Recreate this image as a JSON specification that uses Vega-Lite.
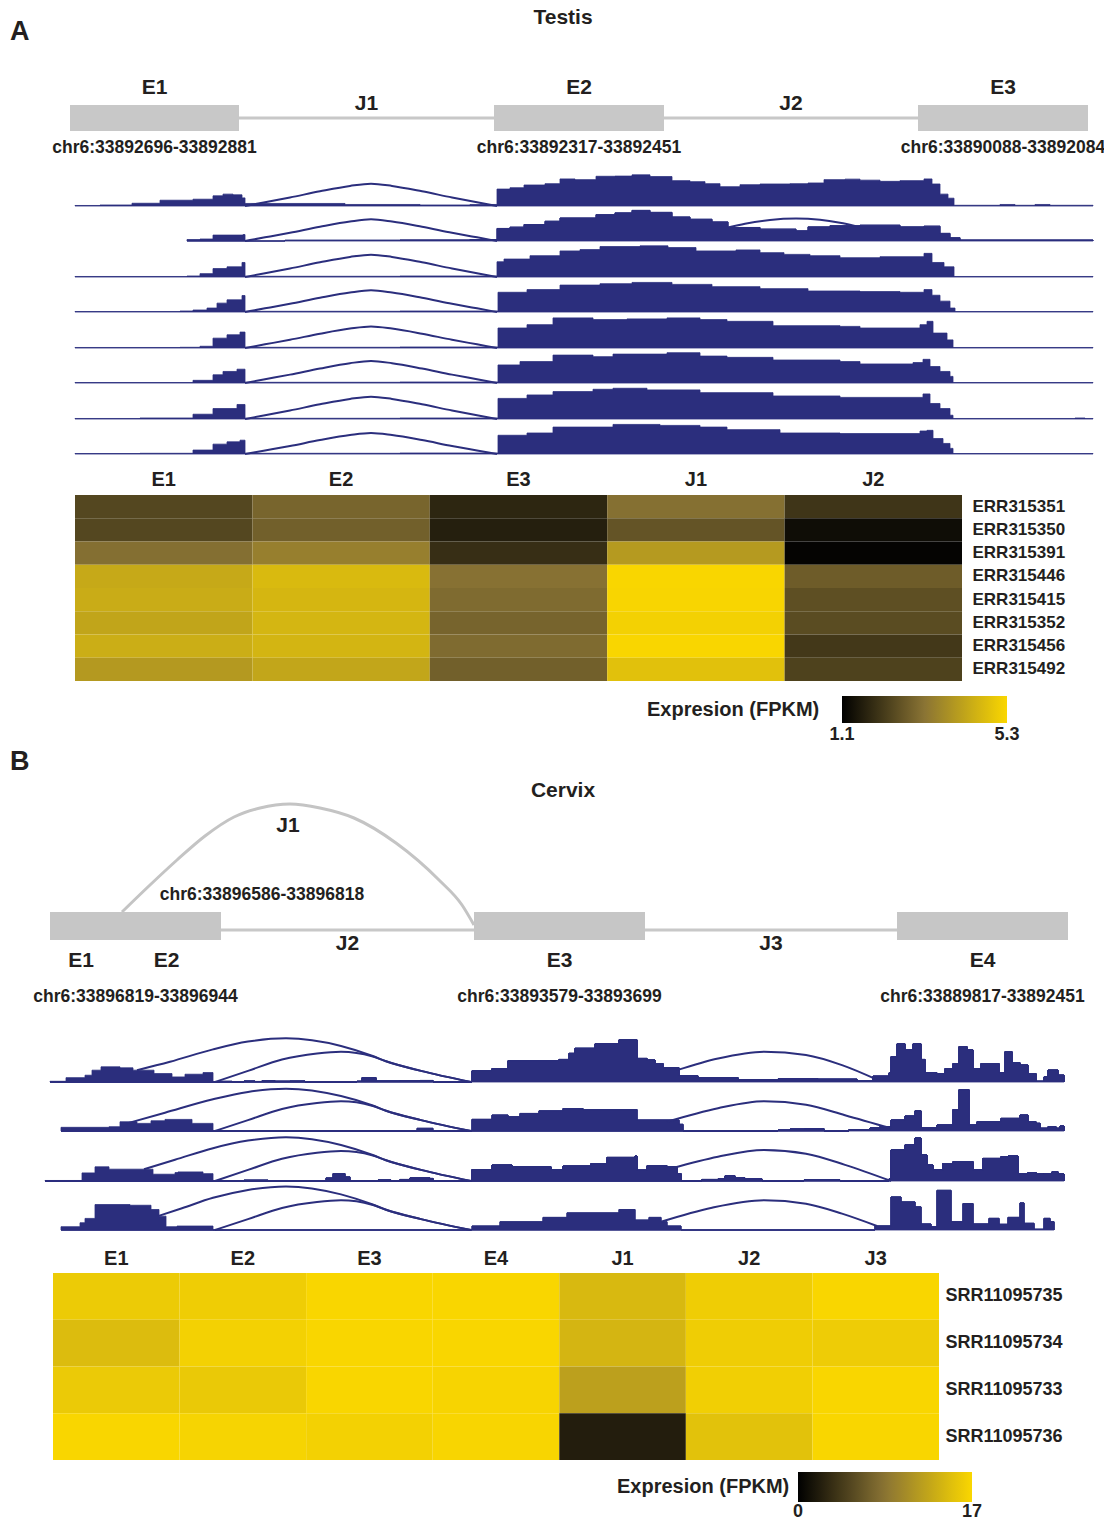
{
"$schema": "https://vega.github.io/schema/vega-lite/v6.json",
"padding": 0,
"autosize": {"type": "pad"},
"background": "white",
"bounds": "flush",
"spacing": 0,
"config": {"view": {"stroke": null}, "axis": {"labelFont": "Liberation Sans", "labelFontWeight": "bold", "labelColor": "#231f20"}},
"resolve": {"scale": {"color": "independent"}},
"datasets": {
"panels": [{"panel": "A", "tissue": "Testis"}, {"panel": "B", "tissue": "Cervix"}],
"featA": [
{"id": "E1", "type": "exon", "start": 70, "end": 239, "coord": "chr6:33892696-33892881"},
{"id": "J1", "type": "intron", "start": 239, "end": 494},
{"id": "E2", "type": "exon", "start": 494, "end": 664, "coord": "chr6:33892317-33892451"},
{"id": "J2", "type": "intron", "start": 664, "end": 918},
{"id": "E3", "type": "exon", "start": 918, "end": 1088, "coord": "chr6:33890088-33892084"}
],
"featB": [
{"id": "E1", "type": "exon", "start": 50, "end": 112},
{"id": "E2", "type": "exon", "start": 112, "end": 221},
{"id": "J2", "type": "intron", "start": 221, "end": 474},
{"id": "E3", "type": "exon", "start": 474, "end": 645, "coord": "chr6:33893579-33893699"},
{"id": "J3", "type": "intron", "start": 645, "end": 897},
{"id": "E4", "type": "exon", "start": 897, "end": 1068, "coord": "chr6:33889817-33892451"},
{"id": "E1-E2", "type": "span", "start": 50, "end": 221, "coord": "chr6:33896819-33896944"},
{"id": "J1", "type": "junction", "start": 122, "end": 474, "coord": "chr6:33896586-33896818"}
],
"arcB": [
{"pos": 122, "level": 231}, {"pos": 150, "level": 204}, {"pos": 177, "level": 179}, {"pos": 205, "level": 155}, {"pos": 234, "level": 136}, {"pos": 260, "level": 127}, {"pos": 290, "level": 123}, {"pos": 320, "level": 127}, {"pos": 354, "level": 137}, {"pos": 396, "level": 162}, {"pos": 439, "level": 199}, {"pos": 462, "level": 224}, {"pos": 474, "level": 244}
],
"tracksA": [
{"track":1,"kind":"cov","seg":"c1","pos":75,"cov":0.5},{"track":1,"kind":"cov","seg":"c1","pos":100,"cov":1},{"track":1,"kind":"cov","seg":"c1","pos":132,"cov":2.7},{"track":1,"kind":"cov","seg":"c1","pos":160,"cov":5.7},{"track":1,"kind":"cov","seg":"c1","pos":193,"cov":6.7},{"track":1,"kind":"cov","seg":"c1","pos":213,"cov":10},{"track":1,"kind":"cov","seg":"c1","pos":223,"cov":11.7},{"track":1,"kind":"cov","seg":"c1","pos":233,"cov":11},{"track":1,"kind":"cov","seg":"c1","pos":242,"cov":8},{"track":1,"kind":"cov","seg":"c1","pos":245,"cov":2.5},{"track":1,"kind":"cov","seg":"c1","pos":345,"cov":1.5},{"track":1,"kind":"cov","seg":"c1","pos":420,"cov":1},{"track":1,"kind":"cov","seg":"c1","pos":470,"cov":1.5},{"track":1,"kind":"cov","seg":"c1","pos":497,"cov":16.7},{"track":1,"kind":"cov","seg":"c1","pos":510,"cov":18},{"track":1,"kind":"cov","seg":"c1","pos":524,"cov":20.7},{"track":1,"kind":"cov","seg":"c1","pos":545,"cov":22},{"track":1,"kind":"cov","seg":"c1","pos":560,"cov":26.7},{"track":1,"kind":"cov","seg":"c1","pos":575,"cov":26},{"track":1,"kind":"cov","seg":"c1","pos":596,"cov":29.3},{"track":1,"kind":"cov","seg":"c1","pos":615,"cov":29.5},{"track":1,"kind":"cov","seg":"c1","pos":632,"cov":30.7},{"track":1,"kind":"cov","seg":"c1","pos":650,"cov":29},{"track":1,"kind":"cov","seg":"c1","pos":672,"cov":25},{"track":1,"kind":"cov","seg":"c1","pos":690,"cov":24},{"track":1,"kind":"cov","seg":"c1","pos":705,"cov":22},{"track":1,"kind":"cov","seg":"c1","pos":720,"cov":19},{"track":1,"kind":"cov","seg":"c1","pos":740,"cov":21},{"track":1,"kind":"cov","seg":"c1","pos":760,"cov":21.7},{"track":1,"kind":"cov","seg":"c1","pos":790,"cov":22},{"track":1,"kind":"cov","seg":"c1","pos":808,"cov":22.7},{"track":1,"kind":"cov","seg":"c1","pos":824,"cov":26},{"track":1,"kind":"cov","seg":"c1","pos":845,"cov":26.5},{"track":1,"kind":"cov","seg":"c1","pos":860,"cov":25.5},{"track":1,"kind":"cov","seg":"c1","pos":880,"cov":24.3},{"track":1,"kind":"cov","seg":"c1","pos":900,"cov":25},{"track":1,"kind":"cov","seg":"c1","pos":924,"cov":26.7},{"track":1,"kind":"cov","seg":"c1","pos":932,"cov":21.7},{"track":1,"kind":"cov","seg":"c1","pos":940,"cov":11.7},{"track":1,"kind":"cov","seg":"c1","pos":948,"cov":7.7},{"track":1,"kind":"cov","seg":"c1","pos":954,"cov":0.7},{"track":1,"kind":"cov","seg":"c1","pos":1000,"cov":1.5},{"track":1,"kind":"cov","seg":"c1","pos":1015,"cov":0.7},{"track":1,"kind":"cov","seg":"c1","pos":1035,"cov":1.5},{"track":1,"kind":"cov","seg":"c1","pos":1050,"cov":0.7},{"track":1,"kind":"cov","seg":"c1","pos":1093,"cov":0},
{"track":2,"kind":"cov","seg":"c1","pos":187,"cov":1.5},{"track":2,"kind":"cov","seg":"c1","pos":200,"cov":2},{"track":2,"kind":"cov","seg":"c1","pos":213,"cov":6},{"track":2,"kind":"cov","seg":"c1","pos":243,"cov":6.5},{"track":2,"kind":"cov","seg":"c1","pos":245,"cov":0},
{"track":2,"kind":"cov","seg":"c2","pos":285,"cov":0.7},{"track":2,"kind":"cov","seg":"c2","pos":400,"cov":1},{"track":2,"kind":"cov","seg":"c2","pos":470,"cov":1.5},{"track":2,"kind":"cov","seg":"c2","pos":497,"cov":12.7},{"track":2,"kind":"cov","seg":"c2","pos":510,"cov":14},{"track":2,"kind":"cov","seg":"c2","pos":524,"cov":16.7},{"track":2,"kind":"cov","seg":"c2","pos":545,"cov":20},{"track":2,"kind":"cov","seg":"c2","pos":560,"cov":23.3},{"track":2,"kind":"cov","seg":"c2","pos":596,"cov":26.7},{"track":2,"kind":"cov","seg":"c2","pos":615,"cov":28.5},{"track":2,"kind":"cov","seg":"c2","pos":632,"cov":31},{"track":2,"kind":"cov","seg":"c2","pos":650,"cov":29},{"track":2,"kind":"cov","seg":"c2","pos":672,"cov":24.3},{"track":2,"kind":"cov","seg":"c2","pos":690,"cov":22},{"track":2,"kind":"cov","seg":"c2","pos":712,"cov":19.3},{"track":2,"kind":"cov","seg":"c2","pos":728,"cov":13.7},{"track":2,"kind":"cov","seg":"c2","pos":760,"cov":12},{"track":2,"kind":"cov","seg":"c2","pos":796,"cov":10.3},{"track":2,"kind":"cov","seg":"c2","pos":808,"cov":14.3},{"track":2,"kind":"cov","seg":"c2","pos":830,"cov":15.5},{"track":2,"kind":"cov","seg":"c2","pos":860,"cov":16},{"track":2,"kind":"cov","seg":"c2","pos":900,"cov":14.3},{"track":2,"kind":"cov","seg":"c2","pos":924,"cov":15},{"track":2,"kind":"cov","seg":"c2","pos":940,"cov":7.7},{"track":2,"kind":"cov","seg":"c2","pos":950,"cov":3.3},{"track":2,"kind":"cov","seg":"c2","pos":960,"cov":1},{"track":2,"kind":"cov","seg":"c2","pos":1093,"cov":0},
{"track":3,"kind":"cov","seg":"c1","pos":75,"cov":0.5},{"track":3,"kind":"cov","seg":"c1","pos":187,"cov":1},{"track":3,"kind":"cov","seg":"c1","pos":200,"cov":3.3},{"track":3,"kind":"cov","seg":"c1","pos":213,"cov":8.3},{"track":3,"kind":"cov","seg":"c1","pos":227,"cov":10},{"track":3,"kind":"cov","seg":"c1","pos":242,"cov":14.3},{"track":3,"kind":"cov","seg":"c1","pos":245,"cov":0.7},{"track":3,"kind":"cov","seg":"c1","pos":400,"cov":1},{"track":3,"kind":"cov","seg":"c1","pos":497,"cov":15},{"track":3,"kind":"cov","seg":"c1","pos":504,"cov":17.7},{"track":3,"kind":"cov","seg":"c1","pos":530,"cov":21},{"track":3,"kind":"cov","seg":"c1","pos":560,"cov":25.7},{"track":3,"kind":"cov","seg":"c1","pos":580,"cov":27},{"track":3,"kind":"cov","seg":"c1","pos":600,"cov":30},{"track":3,"kind":"cov","seg":"c1","pos":640,"cov":30.7},{"track":3,"kind":"cov","seg":"c1","pos":668,"cov":29},{"track":3,"kind":"cov","seg":"c1","pos":696,"cov":25.7},{"track":3,"kind":"cov","seg":"c1","pos":736,"cov":26.7},{"track":3,"kind":"cov","seg":"c1","pos":760,"cov":24},{"track":3,"kind":"cov","seg":"c1","pos":784,"cov":22.3},{"track":3,"kind":"cov","seg":"c1","pos":810,"cov":21},{"track":3,"kind":"cov","seg":"c1","pos":840,"cov":19},{"track":3,"kind":"cov","seg":"c1","pos":880,"cov":20},{"track":3,"kind":"cov","seg":"c1","pos":924,"cov":23.3},{"track":3,"kind":"cov","seg":"c1","pos":932,"cov":14.3},{"track":3,"kind":"cov","seg":"c1","pos":944,"cov":10},{"track":3,"kind":"cov","seg":"c1","pos":954,"cov":0.5},{"track":3,"kind":"cov","seg":"c1","pos":1093,"cov":0},
{"track":4,"kind":"cov","seg":"c1","pos":75,"cov":0.5},{"track":4,"kind":"cov","seg":"c1","pos":180,"cov":1},{"track":4,"kind":"cov","seg":"c1","pos":193,"cov":2},{"track":4,"kind":"cov","seg":"c1","pos":207,"cov":4},{"track":4,"kind":"cov","seg":"c1","pos":217,"cov":9},{"track":4,"kind":"cov","seg":"c1","pos":227,"cov":12.3},{"track":4,"kind":"cov","seg":"c1","pos":242,"cov":16.7},{"track":4,"kind":"cov","seg":"c1","pos":245,"cov":0.7},{"track":4,"kind":"cov","seg":"c1","pos":400,"cov":1},{"track":4,"kind":"cov","seg":"c1","pos":498,"cov":20},{"track":4,"kind":"cov","seg":"c1","pos":527,"cov":22.7},{"track":4,"kind":"cov","seg":"c1","pos":560,"cov":27.3},{"track":4,"kind":"cov","seg":"c1","pos":600,"cov":28.7},{"track":4,"kind":"cov","seg":"c1","pos":632,"cov":30},{"track":4,"kind":"cov","seg":"c1","pos":672,"cov":28},{"track":4,"kind":"cov","seg":"c1","pos":712,"cov":25.7},{"track":4,"kind":"cov","seg":"c1","pos":760,"cov":23.7},{"track":4,"kind":"cov","seg":"c1","pos":808,"cov":21.3},{"track":4,"kind":"cov","seg":"c1","pos":860,"cov":20.7},{"track":4,"kind":"cov","seg":"c1","pos":900,"cov":20},{"track":4,"kind":"cov","seg":"c1","pos":924,"cov":22.7},{"track":4,"kind":"cov","seg":"c1","pos":932,"cov":17},{"track":4,"kind":"cov","seg":"c1","pos":940,"cov":11},{"track":4,"kind":"cov","seg":"c1","pos":950,"cov":4},{"track":4,"kind":"cov","seg":"c1","pos":955,"cov":0.5},{"track":4,"kind":"cov","seg":"c1","pos":1093,"cov":0},
{"track":5,"kind":"cov","seg":"c1","pos":75,"cov":0.5},{"track":5,"kind":"cov","seg":"c1","pos":180,"cov":0.7},{"track":5,"kind":"cov","seg":"c1","pos":200,"cov":1.7},{"track":5,"kind":"cov","seg":"c1","pos":213,"cov":9.7},{"track":5,"kind":"cov","seg":"c1","pos":227,"cov":13},{"track":5,"kind":"cov","seg":"c1","pos":240,"cov":15.7},{"track":5,"kind":"cov","seg":"c1","pos":245,"cov":0.7},{"track":5,"kind":"cov","seg":"c1","pos":400,"cov":1},{"track":5,"kind":"cov","seg":"c1","pos":498,"cov":19.7},{"track":5,"kind":"cov","seg":"c1","pos":527,"cov":23},{"track":5,"kind":"cov","seg":"c1","pos":553,"cov":29.7},{"track":5,"kind":"cov","seg":"c1","pos":593,"cov":28},{"track":5,"kind":"cov","seg":"c1","pos":627,"cov":28.7},{"track":5,"kind":"cov","seg":"c1","pos":667,"cov":29.7},{"track":5,"kind":"cov","seg":"c1","pos":700,"cov":28},{"track":5,"kind":"cov","seg":"c1","pos":727,"cov":26.3},{"track":5,"kind":"cov","seg":"c1","pos":773,"cov":22},{"track":5,"kind":"cov","seg":"c1","pos":840,"cov":21.3},{"track":5,"kind":"cov","seg":"c1","pos":860,"cov":19.7},{"track":5,"kind":"cov","seg":"c1","pos":920,"cov":23},{"track":5,"kind":"cov","seg":"c1","pos":927,"cov":26.3},{"track":5,"kind":"cov","seg":"c1","pos":933,"cov":14.7},{"track":5,"kind":"cov","seg":"c1","pos":947,"cov":8},{"track":5,"kind":"cov","seg":"c1","pos":953,"cov":0.5},{"track":5,"kind":"cov","seg":"c1","pos":1093,"cov":0},
{"track":6,"kind":"cov","seg":"c1","pos":75,"cov":0.5},{"track":6,"kind":"cov","seg":"c1","pos":193,"cov":2.7},{"track":6,"kind":"cov","seg":"c1","pos":213,"cov":8.3},{"track":6,"kind":"cov","seg":"c1","pos":223,"cov":11.7},{"track":6,"kind":"cov","seg":"c1","pos":237,"cov":14},{"track":6,"kind":"cov","seg":"c1","pos":245,"cov":0.7},{"track":6,"kind":"cov","seg":"c1","pos":400,"cov":1},{"track":6,"kind":"cov","seg":"c1","pos":498,"cov":18.3},{"track":6,"kind":"cov","seg":"c1","pos":520,"cov":21.7},{"track":6,"kind":"cov","seg":"c1","pos":553,"cov":28.3},{"track":6,"kind":"cov","seg":"c1","pos":593,"cov":26.7},{"track":6,"kind":"cov","seg":"c1","pos":613,"cov":29.3},{"track":6,"kind":"cov","seg":"c1","pos":667,"cov":30.7},{"track":6,"kind":"cov","seg":"c1","pos":700,"cov":27.3},{"track":6,"kind":"cov","seg":"c1","pos":727,"cov":26},{"track":6,"kind":"cov","seg":"c1","pos":773,"cov":23.3},{"track":6,"kind":"cov","seg":"c1","pos":840,"cov":21.7},{"track":6,"kind":"cov","seg":"c1","pos":860,"cov":19.3},{"track":6,"kind":"cov","seg":"c1","pos":913,"cov":20.7},{"track":6,"kind":"cov","seg":"c1","pos":923,"cov":24},{"track":6,"kind":"cov","seg":"c1","pos":930,"cov":16.7},{"track":6,"kind":"cov","seg":"c1","pos":940,"cov":11.7},{"track":6,"kind":"cov","seg":"c1","pos":950,"cov":6.7},{"track":6,"kind":"cov","seg":"c1","pos":953,"cov":0.5},{"track":6,"kind":"cov","seg":"c1","pos":1093,"cov":0},
{"track":7,"kind":"cov","seg":"c1","pos":75,"cov":0.5},{"track":7,"kind":"cov","seg":"c1","pos":140,"cov":1},{"track":7,"kind":"cov","seg":"c1","pos":193,"cov":4.7},{"track":7,"kind":"cov","seg":"c1","pos":213,"cov":10.3},{"track":7,"kind":"cov","seg":"c1","pos":237,"cov":14.3},{"track":7,"kind":"cov","seg":"c1","pos":245,"cov":0.7},{"track":7,"kind":"cov","seg":"c1","pos":400,"cov":1},{"track":7,"kind":"cov","seg":"c1","pos":498,"cov":20.3},{"track":7,"kind":"cov","seg":"c1","pos":527,"cov":23.7},{"track":7,"kind":"cov","seg":"c1","pos":553,"cov":27},{"track":7,"kind":"cov","seg":"c1","pos":593,"cov":29.3},{"track":7,"kind":"cov","seg":"c1","pos":613,"cov":30.3},{"track":7,"kind":"cov","seg":"c1","pos":647,"cov":28.7},{"track":7,"kind":"cov","seg":"c1","pos":700,"cov":26},{"track":7,"kind":"cov","seg":"c1","pos":773,"cov":22.7},{"track":7,"kind":"cov","seg":"c1","pos":840,"cov":21.3},{"track":7,"kind":"cov","seg":"c1","pos":893,"cov":21.3},{"track":7,"kind":"cov","seg":"c1","pos":923,"cov":24.7},{"track":7,"kind":"cov","seg":"c1","pos":930,"cov":15.3},{"track":7,"kind":"cov","seg":"c1","pos":940,"cov":10.3},{"track":7,"kind":"cov","seg":"c1","pos":950,"cov":3.7},{"track":7,"kind":"cov","seg":"c1","pos":953,"cov":0.5},{"track":7,"kind":"cov","seg":"c1","pos":1075,"cov":1},{"track":7,"kind":"cov","seg":"c1","pos":1085,"cov":0.5},{"track":7,"kind":"cov","seg":"c1","pos":1093,"cov":0},
{"track":8,"kind":"cov","seg":"c1","pos":75,"cov":0.5},{"track":8,"kind":"cov","seg":"c1","pos":140,"cov":0.7},{"track":8,"kind":"cov","seg":"c1","pos":193,"cov":4},{"track":8,"kind":"cov","seg":"c1","pos":213,"cov":10},{"track":8,"kind":"cov","seg":"c1","pos":227,"cov":12.3},{"track":8,"kind":"cov","seg":"c1","pos":240,"cov":14},{"track":8,"kind":"cov","seg":"c1","pos":245,"cov":0.7},{"track":8,"kind":"cov","seg":"c1","pos":400,"cov":1},{"track":8,"kind":"cov","seg":"c1","pos":498,"cov":19},{"track":8,"kind":"cov","seg":"c1","pos":527,"cov":21.3},{"track":8,"kind":"cov","seg":"c1","pos":553,"cov":27.3},{"track":8,"kind":"cov","seg":"c1","pos":613,"cov":30},{"track":8,"kind":"cov","seg":"c1","pos":660,"cov":29},{"track":8,"kind":"cov","seg":"c1","pos":700,"cov":27.3},{"track":8,"kind":"cov","seg":"c1","pos":727,"cov":24.7},{"track":8,"kind":"cov","seg":"c1","pos":780,"cov":21.3},{"track":8,"kind":"cov","seg":"c1","pos":840,"cov":20.7},{"track":8,"kind":"cov","seg":"c1","pos":920,"cov":23.3},{"track":8,"kind":"cov","seg":"c1","pos":927,"cov":24},{"track":8,"kind":"cov","seg":"c1","pos":933,"cov":15.7},{"track":8,"kind":"cov","seg":"c1","pos":943,"cov":10.7},{"track":8,"kind":"cov","seg":"c1","pos":950,"cov":5.7},{"track":8,"kind":"cov","seg":"c1","pos":953,"cov":0.5},{"track":8,"kind":"cov","seg":"c1","pos":1093,"cov":0},
{"track":1,"kind":"arc","seg":"J1","pos":245,"cov":0},{"track":1,"kind":"arc","seg":"J1","pos":265,"cov":3.7},{"track":1,"kind":"arc","seg":"J1","pos":290,"cov":8.4},{"track":1,"kind":"arc","seg":"J1","pos":320,"cov":14.5},{"track":1,"kind":"arc","seg":"J1","pos":350,"cov":19.8},{"track":1,"kind":"arc","seg":"J1","pos":371,"cov":22},{"track":1,"kind":"arc","seg":"J1","pos":392,"cov":19.8},{"track":1,"kind":"arc","seg":"J1","pos":422,"cov":14.5},{"track":1,"kind":"arc","seg":"J1","pos":452,"cov":8.4},{"track":1,"kind":"arc","seg":"J1","pos":477,"cov":3.7},{"track":1,"kind":"arc","seg":"J1","pos":497,"cov":0},
{"track":2,"kind":"arc","seg":"J1","pos":245,"cov":0},{"track":2,"kind":"arc","seg":"J1","pos":265,"cov":3.7},{"track":2,"kind":"arc","seg":"J1","pos":290,"cov":8.4},{"track":2,"kind":"arc","seg":"J1","pos":320,"cov":14.5},{"track":2,"kind":"arc","seg":"J1","pos":350,"cov":19.8},{"track":2,"kind":"arc","seg":"J1","pos":371,"cov":22},{"track":2,"kind":"arc","seg":"J1","pos":392,"cov":19.8},{"track":2,"kind":"arc","seg":"J1","pos":422,"cov":14.5},{"track":2,"kind":"arc","seg":"J1","pos":452,"cov":8.4},{"track":2,"kind":"arc","seg":"J1","pos":477,"cov":3.7},{"track":2,"kind":"arc","seg":"J1","pos":497,"cov":0},
{"track":2,"kind":"arc","seg":"J2","pos":728,"cov":13.7},{"track":2,"kind":"arc","seg":"J2","pos":745,"cov":17.5},{"track":2,"kind":"arc","seg":"J2","pos":770,"cov":21.3},{"track":2,"kind":"arc","seg":"J2","pos":796,"cov":22.7},{"track":2,"kind":"arc","seg":"J2","pos":820,"cov":21.5},{"track":2,"kind":"arc","seg":"J2","pos":840,"cov":18.5},{"track":2,"kind":"arc","seg":"J2","pos":856,"cov":15},
{"track":3,"kind":"arc","seg":"J1","pos":245,"cov":0},{"track":3,"kind":"arc","seg":"J1","pos":265,"cov":3.7},{"track":3,"kind":"arc","seg":"J1","pos":290,"cov":8.4},{"track":3,"kind":"arc","seg":"J1","pos":320,"cov":14.5},{"track":3,"kind":"arc","seg":"J1","pos":350,"cov":19.8},{"track":3,"kind":"arc","seg":"J1","pos":371,"cov":22},{"track":3,"kind":"arc","seg":"J1","pos":392,"cov":19.8},{"track":3,"kind":"arc","seg":"J1","pos":422,"cov":14.5},{"track":3,"kind":"arc","seg":"J1","pos":452,"cov":8.4},{"track":3,"kind":"arc","seg":"J1","pos":477,"cov":3.7},{"track":3,"kind":"arc","seg":"J1","pos":497,"cov":0},
{"track":4,"kind":"arc","seg":"J1","pos":245,"cov":0},{"track":4,"kind":"arc","seg":"J1","pos":265,"cov":3.7},{"track":4,"kind":"arc","seg":"J1","pos":290,"cov":8.4},{"track":4,"kind":"arc","seg":"J1","pos":320,"cov":14.5},{"track":4,"kind":"arc","seg":"J1","pos":350,"cov":19.8},{"track":4,"kind":"arc","seg":"J1","pos":371,"cov":22},{"track":4,"kind":"arc","seg":"J1","pos":392,"cov":19.8},{"track":4,"kind":"arc","seg":"J1","pos":422,"cov":14.5},{"track":4,"kind":"arc","seg":"J1","pos":452,"cov":8.4},{"track":4,"kind":"arc","seg":"J1","pos":477,"cov":3.7},{"track":4,"kind":"arc","seg":"J1","pos":497,"cov":0},
{"track":5,"kind":"arc","seg":"J1","pos":245,"cov":0},{"track":5,"kind":"arc","seg":"J1","pos":265,"cov":3.6},{"track":5,"kind":"arc","seg":"J1","pos":290,"cov":8.1},{"track":5,"kind":"arc","seg":"J1","pos":320,"cov":14.1},{"track":5,"kind":"arc","seg":"J1","pos":350,"cov":19.2},{"track":5,"kind":"arc","seg":"J1","pos":371,"cov":21.3},{"track":5,"kind":"arc","seg":"J1","pos":392,"cov":19.2},{"track":5,"kind":"arc","seg":"J1","pos":422,"cov":14.1},{"track":5,"kind":"arc","seg":"J1","pos":452,"cov":8.1},{"track":5,"kind":"arc","seg":"J1","pos":477,"cov":3.6},{"track":5,"kind":"arc","seg":"J1","pos":497,"cov":0},
{"track":6,"kind":"arc","seg":"J1","pos":245,"cov":0},{"track":6,"kind":"arc","seg":"J1","pos":265,"cov":3.8},{"track":6,"kind":"arc","seg":"J1","pos":290,"cov":8.5},{"track":6,"kind":"arc","seg":"J1","pos":320,"cov":14.7},{"track":6,"kind":"arc","seg":"J1","pos":350,"cov":20.1},{"track":6,"kind":"arc","seg":"J1","pos":371,"cov":22.3},{"track":6,"kind":"arc","seg":"J1","pos":392,"cov":20.1},{"track":6,"kind":"arc","seg":"J1","pos":422,"cov":14.7},{"track":6,"kind":"arc","seg":"J1","pos":452,"cov":8.5},{"track":6,"kind":"arc","seg":"J1","pos":477,"cov":3.8},{"track":6,"kind":"arc","seg":"J1","pos":497,"cov":0},
{"track":7,"kind":"arc","seg":"J1","pos":245,"cov":0},{"track":7,"kind":"arc","seg":"J1","pos":265,"cov":3.7},{"track":7,"kind":"arc","seg":"J1","pos":290,"cov":8.4},{"track":7,"kind":"arc","seg":"J1","pos":320,"cov":14.5},{"track":7,"kind":"arc","seg":"J1","pos":350,"cov":19.8},{"track":7,"kind":"arc","seg":"J1","pos":371,"cov":22},{"track":7,"kind":"arc","seg":"J1","pos":392,"cov":19.8},{"track":7,"kind":"arc","seg":"J1","pos":422,"cov":14.5},{"track":7,"kind":"arc","seg":"J1","pos":452,"cov":8.4},{"track":7,"kind":"arc","seg":"J1","pos":477,"cov":3.7},{"track":7,"kind":"arc","seg":"J1","pos":497,"cov":0},
{"track":8,"kind":"arc","seg":"J1","pos":245,"cov":0},{"track":8,"kind":"arc","seg":"J1","pos":265,"cov":3.6},{"track":8,"kind":"arc","seg":"J1","pos":290,"cov":8.1},{"track":8,"kind":"arc","seg":"J1","pos":320,"cov":14.1},{"track":8,"kind":"arc","seg":"J1","pos":350,"cov":19.2},{"track":8,"kind":"arc","seg":"J1","pos":371,"cov":21.3},{"track":8,"kind":"arc","seg":"J1","pos":392,"cov":19.2},{"track":8,"kind":"arc","seg":"J1","pos":422,"cov":14.1},{"track":8,"kind":"arc","seg":"J1","pos":452,"cov":8.1},{"track":8,"kind":"arc","seg":"J1","pos":477,"cov":3.6},{"track":8,"kind":"arc","seg":"J1","pos":497,"cov":0}
],
"tracksB": [
{"track":1,"kind":"cov","seg":"c1","pos":50,"cov":0.7},{"track":1,"kind":"cov","seg":"c1","pos":66,"cov":4.3},{"track":1,"kind":"cov","seg":"c1","pos":85,"cov":6.7},{"track":1,"kind":"cov","seg":"c1","pos":92,"cov":11.7},{"track":1,"kind":"cov","seg":"c1","pos":101,"cov":15},{"track":1,"kind":"cov","seg":"c1","pos":120,"cov":14},{"track":1,"kind":"cov","seg":"c1","pos":133,"cov":11.7},{"track":1,"kind":"cov","seg":"c1","pos":154,"cov":8.3},{"track":1,"kind":"cov","seg":"c1","pos":172,"cov":5},{"track":1,"kind":"cov","seg":"c1","pos":185,"cov":7.7},{"track":1,"kind":"cov","seg":"c1","pos":203,"cov":9.3},{"track":1,"kind":"cov","seg":"c1","pos":213,"cov":0},
{"track":1,"kind":"cov","seg":"c2","pos":220,"cov":0.7},{"track":1,"kind":"cov","seg":"c2","pos":232,"cov":0},
{"track":1,"kind":"cov","seg":"c3","pos":244,"cov":1},{"track":1,"kind":"cov","seg":"c3","pos":255,"cov":0.5},{"track":1,"kind":"cov","seg":"c3","pos":262,"cov":1.2},{"track":1,"kind":"cov","seg":"c3","pos":275,"cov":0.8},{"track":1,"kind":"cov","seg":"c3","pos":290,"cov":1},{"track":1,"kind":"cov","seg":"c3","pos":305,"cov":0},
{"track":1,"kind":"cov","seg":"c4","pos":357,"cov":0.7},{"track":1,"kind":"cov","seg":"c4","pos":362,"cov":4.3},{"track":1,"kind":"cov","seg":"c4","pos":376,"cov":1},{"track":1,"kind":"cov","seg":"c4","pos":400,"cov":1.2},{"track":1,"kind":"cov","seg":"c4","pos":420,"cov":1.5},{"track":1,"kind":"cov","seg":"c4","pos":433,"cov":0},
{"track":1,"kind":"cov","seg":"c5","pos":472,"cov":11},{"track":1,"kind":"cov","seg":"c5","pos":492,"cov":13.3},{"track":1,"kind":"cov","seg":"c5","pos":508,"cov":21},{"track":1,"kind":"cov","seg":"c5","pos":559,"cov":22.3},{"track":1,"kind":"cov","seg":"c5","pos":569,"cov":28.3},{"track":1,"kind":"cov","seg":"c5","pos":575,"cov":33.3},{"track":1,"kind":"cov","seg":"c5","pos":595,"cov":37.7},{"track":1,"kind":"cov","seg":"c5","pos":619,"cov":41.7},{"track":1,"kind":"cov","seg":"c5","pos":637,"cov":23.3},{"track":1,"kind":"cov","seg":"c5","pos":647,"cov":21.7},{"track":1,"kind":"cov","seg":"c5","pos":655,"cov":18.3},{"track":1,"kind":"cov","seg":"c5","pos":663,"cov":14},{"track":1,"kind":"cov","seg":"c5","pos":679,"cov":6},{"track":1,"kind":"cov","seg":"c5","pos":698,"cov":4.3},{"track":1,"kind":"cov","seg":"c5","pos":738,"cov":2.3},{"track":1,"kind":"cov","seg":"c5","pos":778,"cov":3},{"track":1,"kind":"cov","seg":"c5","pos":818,"cov":2.7},{"track":1,"kind":"cov","seg":"c5","pos":857,"cov":1},{"track":1,"kind":"cov","seg":"c5","pos":873,"cov":5.7},{"track":1,"kind":"cov","seg":"c5","pos":889,"cov":9},{"track":1,"kind":"cov","seg":"c5","pos":891,"cov":25},{"track":1,"kind":"cov","seg":"c5","pos":897,"cov":37.7},{"track":1,"kind":"cov","seg":"c5","pos":905,"cov":31.7},{"track":1,"kind":"cov","seg":"c5","pos":913,"cov":37.7},{"track":1,"kind":"cov","seg":"c5","pos":921,"cov":22.3},{"track":1,"kind":"cov","seg":"c5","pos":925,"cov":9},{"track":1,"kind":"cov","seg":"c5","pos":937,"cov":8.3},{"track":1,"kind":"cov","seg":"c5","pos":945,"cov":13.3},{"track":1,"kind":"cov","seg":"c5","pos":953,"cov":18.3},{"track":1,"kind":"cov","seg":"c5","pos":959,"cov":35},{"track":1,"kind":"cov","seg":"c5","pos":967,"cov":31.7},{"track":1,"kind":"cov","seg":"c5","pos":973,"cov":13.3},{"track":1,"kind":"cov","seg":"c5","pos":981,"cov":18.3},{"track":1,"kind":"cov","seg":"c5","pos":999,"cov":9},{"track":1,"kind":"cov","seg":"c5","pos":1005,"cov":30},{"track":1,"kind":"cov","seg":"c5","pos":1012,"cov":19},{"track":1,"kind":"cov","seg":"c5","pos":1020,"cov":16.7},{"track":1,"kind":"cov","seg":"c5","pos":1028,"cov":8.3},{"track":1,"kind":"cov","seg":"c5","pos":1036,"cov":0.7},{"track":1,"kind":"cov","seg":"c5","pos":1044,"cov":5},{"track":1,"kind":"cov","seg":"c5","pos":1048,"cov":11.7},{"track":1,"kind":"cov","seg":"c5","pos":1058,"cov":6.7},{"track":1,"kind":"cov","seg":"c5","pos":1064,"cov":0},
{"track":2,"kind":"cov","seg":"c1","pos":61,"cov":3.7},{"track":2,"kind":"cov","seg":"c1","pos":109,"cov":4.3},{"track":2,"kind":"cov","seg":"c1","pos":120,"cov":9.3},{"track":2,"kind":"cov","seg":"c1","pos":137,"cov":7.7},{"track":2,"kind":"cov","seg":"c1","pos":151,"cov":10.3},{"track":2,"kind":"cov","seg":"c1","pos":165,"cov":11.7},{"track":2,"kind":"cov","seg":"c1","pos":192,"cov":7.7},{"track":2,"kind":"cov","seg":"c1","pos":213,"cov":0},
{"track":2,"kind":"cov","seg":"c2","pos":417,"cov":2.7},{"track":2,"kind":"cov","seg":"c2","pos":433,"cov":0},
{"track":2,"kind":"cov","seg":"c3","pos":472,"cov":11.7},{"track":2,"kind":"cov","seg":"c3","pos":492,"cov":16},{"track":2,"kind":"cov","seg":"c3","pos":508,"cov":14.3},{"track":2,"kind":"cov","seg":"c3","pos":520,"cov":17.7},{"track":2,"kind":"cov","seg":"c3","pos":539,"cov":20.3},{"track":2,"kind":"cov","seg":"c3","pos":563,"cov":22.7},{"track":2,"kind":"cov","seg":"c3","pos":583,"cov":21.7},{"track":2,"kind":"cov","seg":"c3","pos":637,"cov":11},{"track":2,"kind":"cov","seg":"c3","pos":679,"cov":6.7},{"track":2,"kind":"cov","seg":"c3","pos":683,"cov":0},
{"track":2,"kind":"cov","seg":"c4","pos":778,"cov":1},{"track":2,"kind":"cov","seg":"c4","pos":790,"cov":2},{"track":2,"kind":"cov","seg":"c4","pos":805,"cov":2.3},{"track":2,"kind":"cov","seg":"c4","pos":824,"cov":0},
{"track":2,"kind":"cov","seg":"c5","pos":849,"cov":1.5},{"track":2,"kind":"cov","seg":"c5","pos":870,"cov":3},{"track":2,"kind":"cov","seg":"c5","pos":880,"cov":4.5},{"track":2,"kind":"cov","seg":"c5","pos":891,"cov":11},{"track":2,"kind":"cov","seg":"c5","pos":905,"cov":15},{"track":2,"kind":"cov","seg":"c5","pos":915,"cov":20.3},{"track":2,"kind":"cov","seg":"c5","pos":921,"cov":3},{"track":2,"kind":"cov","seg":"c5","pos":937,"cov":6},{"track":2,"kind":"cov","seg":"c5","pos":953,"cov":21.7},{"track":2,"kind":"cov","seg":"c5","pos":959,"cov":41.7},{"track":2,"kind":"cov","seg":"c5","pos":969,"cov":6},{"track":2,"kind":"cov","seg":"c5","pos":977,"cov":9.3},{"track":2,"kind":"cov","seg":"c5","pos":1001,"cov":12.7},{"track":2,"kind":"cov","seg":"c5","pos":1020,"cov":16},{"track":2,"kind":"cov","seg":"c5","pos":1028,"cov":9.3},{"track":2,"kind":"cov","seg":"c5","pos":1036,"cov":7.7},{"track":2,"kind":"cov","seg":"c5","pos":1040,"cov":2.7},{"track":2,"kind":"cov","seg":"c5","pos":1048,"cov":4.3},{"track":2,"kind":"cov","seg":"c5","pos":1056,"cov":2.7},{"track":2,"kind":"cov","seg":"c5","pos":1060,"cov":5},{"track":2,"kind":"cov","seg":"c5","pos":1064,"cov":0},
{"track":3,"kind":"cov","seg":"c1","pos":45,"cov":0.5},{"track":3,"kind":"cov","seg":"c1","pos":82,"cov":8},{"track":3,"kind":"cov","seg":"c1","pos":95,"cov":14},{"track":3,"kind":"cov","seg":"c1","pos":109,"cov":11.7},{"track":3,"kind":"cov","seg":"c1","pos":151,"cov":11.7},{"track":3,"kind":"cov","seg":"c1","pos":153,"cov":6.7},{"track":3,"kind":"cov","seg":"c1","pos":175,"cov":8.3},{"track":3,"kind":"cov","seg":"c1","pos":178,"cov":9},{"track":3,"kind":"cov","seg":"c1","pos":203,"cov":7.3},{"track":3,"kind":"cov","seg":"c1","pos":213,"cov":0},
{"track":3,"kind":"cov","seg":"c2","pos":244,"cov":1},{"track":3,"kind":"cov","seg":"c2","pos":268,"cov":0},
{"track":3,"kind":"cov","seg":"c3","pos":326,"cov":3},{"track":3,"kind":"cov","seg":"c3","pos":333,"cov":7.3},{"track":3,"kind":"cov","seg":"c3","pos":345,"cov":4},{"track":3,"kind":"cov","seg":"c3","pos":350,"cov":0},
{"track":3,"kind":"cov","seg":"c4","pos":378,"cov":1},{"track":3,"kind":"cov","seg":"c4","pos":391,"cov":0},
{"track":3,"kind":"cov","seg":"c5","pos":400,"cov":1.5},{"track":3,"kind":"cov","seg":"c5","pos":410,"cov":3},{"track":3,"kind":"cov","seg":"c5","pos":430,"cov":2.5},{"track":3,"kind":"cov","seg":"c5","pos":433,"cov":0},
{"track":3,"kind":"cov","seg":"c6","pos":472,"cov":11.3},{"track":3,"kind":"cov","seg":"c6","pos":492,"cov":15.7},{"track":3,"kind":"cov","seg":"c6","pos":512,"cov":14},{"track":3,"kind":"cov","seg":"c6","pos":551,"cov":11.3},{"track":3,"kind":"cov","seg":"c6","pos":563,"cov":14.7},{"track":3,"kind":"cov","seg":"c6","pos":591,"cov":17.3},{"track":3,"kind":"cov","seg":"c6","pos":607,"cov":23.3},{"track":3,"kind":"cov","seg":"c6","pos":635,"cov":24.7},{"track":3,"kind":"cov","seg":"c6","pos":637,"cov":10.7},{"track":3,"kind":"cov","seg":"c6","pos":647,"cov":15},{"track":3,"kind":"cov","seg":"c6","pos":667,"cov":14},{"track":3,"kind":"cov","seg":"c6","pos":677,"cov":7.3},{"track":3,"kind":"cov","seg":"c6","pos":681,"cov":0},
{"track":3,"kind":"cov","seg":"c7","pos":702,"cov":1.5},{"track":3,"kind":"cov","seg":"c7","pos":718,"cov":2},{"track":3,"kind":"cov","seg":"c7","pos":725,"cov":5},{"track":3,"kind":"cov","seg":"c7","pos":735,"cov":3},{"track":3,"kind":"cov","seg":"c7","pos":745,"cov":2},{"track":3,"kind":"cov","seg":"c7","pos":762,"cov":0},
{"track":3,"kind":"cov","seg":"c8","pos":804,"cov":1},{"track":3,"kind":"cov","seg":"c8","pos":840,"cov":0},
{"track":3,"kind":"cov","seg":"c9","pos":889,"cov":2},{"track":3,"kind":"cov","seg":"c9","pos":891,"cov":30.7},{"track":3,"kind":"cov","seg":"c9","pos":905,"cov":35.7},{"track":3,"kind":"cov","seg":"c9","pos":915,"cov":42.3},{"track":3,"kind":"cov","seg":"c9","pos":921,"cov":25.7},{"track":3,"kind":"cov","seg":"c9","pos":927,"cov":15.7},{"track":3,"kind":"cov","seg":"c9","pos":933,"cov":10.7},{"track":3,"kind":"cov","seg":"c9","pos":943,"cov":17.3},{"track":3,"kind":"cov","seg":"c9","pos":953,"cov":19},{"track":3,"kind":"cov","seg":"c9","pos":973,"cov":10.7},{"track":3,"kind":"cov","seg":"c9","pos":983,"cov":22.3},{"track":3,"kind":"cov","seg":"c9","pos":1001,"cov":24},{"track":3,"kind":"cov","seg":"c9","pos":1008,"cov":24.7},{"track":3,"kind":"cov","seg":"c9","pos":1018,"cov":7.3},{"track":3,"kind":"cov","seg":"c9","pos":1028,"cov":8.3},{"track":3,"kind":"cov","seg":"c9","pos":1036,"cov":6.7},{"track":3,"kind":"cov","seg":"c9","pos":1044,"cov":7.3},{"track":3,"kind":"cov","seg":"c9","pos":1052,"cov":9},{"track":3,"kind":"cov","seg":"c9","pos":1058,"cov":6.7},{"track":3,"kind":"cov","seg":"c9","pos":1064,"cov":0},
{"track":4,"kind":"cov","seg":"c1","pos":61,"cov":3.3},{"track":4,"kind":"cov","seg":"c1","pos":80,"cov":7.3},{"track":4,"kind":"cov","seg":"c1","pos":85,"cov":11.7},{"track":4,"kind":"cov","seg":"c1","pos":95,"cov":25.7},{"track":4,"kind":"cov","seg":"c1","pos":130,"cov":25},{"track":4,"kind":"cov","seg":"c1","pos":151,"cov":20.7},{"track":4,"kind":"cov","seg":"c1","pos":159,"cov":14},{"track":4,"kind":"cov","seg":"c1","pos":166,"cov":3.3},{"track":4,"kind":"cov","seg":"c1","pos":177,"cov":4},{"track":4,"kind":"cov","seg":"c1","pos":213,"cov":0},
{"track":4,"kind":"cov","seg":"c2","pos":472,"cov":4},{"track":4,"kind":"cov","seg":"c2","pos":500,"cov":8.3},{"track":4,"kind":"cov","seg":"c2","pos":543,"cov":12.7},{"track":4,"kind":"cov","seg":"c2","pos":567,"cov":17.3},{"track":4,"kind":"cov","seg":"c2","pos":619,"cov":20.7},{"track":4,"kind":"cov","seg":"c2","pos":635,"cov":10},{"track":4,"kind":"cov","seg":"c2","pos":649,"cov":12.7},{"track":4,"kind":"cov","seg":"c2","pos":661,"cov":8.3},{"track":4,"kind":"cov","seg":"c2","pos":667,"cov":4},{"track":4,"kind":"cov","seg":"c2","pos":681,"cov":0},
{"track":4,"kind":"cov","seg":"c3","pos":875,"cov":4},{"track":4,"kind":"cov","seg":"c3","pos":891,"cov":33.3},{"track":4,"kind":"cov","seg":"c3","pos":901,"cov":28.3},{"track":4,"kind":"cov","seg":"c3","pos":915,"cov":23.3},{"track":4,"kind":"cov","seg":"c3","pos":921,"cov":6},{"track":4,"kind":"cov","seg":"c3","pos":931,"cov":3.3},{"track":4,"kind":"cov","seg":"c3","pos":937,"cov":40},{"track":4,"kind":"cov","seg":"c3","pos":951,"cov":8.3},{"track":4,"kind":"cov","seg":"c3","pos":963,"cov":26.7},{"track":4,"kind":"cov","seg":"c3","pos":973,"cov":6},{"track":4,"kind":"cov","seg":"c3","pos":989,"cov":11.7},{"track":4,"kind":"cov","seg":"c3","pos":999,"cov":5.7},{"track":4,"kind":"cov","seg":"c3","pos":1008,"cov":12.7},{"track":4,"kind":"cov","seg":"c3","pos":1020,"cov":27.3},{"track":4,"kind":"cov","seg":"c3","pos":1024,"cov":6.7},{"track":4,"kind":"cov","seg":"c3","pos":1034,"cov":0.7},{"track":4,"kind":"cov","seg":"c3","pos":1044,"cov":11.7},{"track":4,"kind":"cov","seg":"c3","pos":1050,"cov":8.3},{"track":4,"kind":"cov","seg":"c3","pos":1054,"cov":0},
{"track":1,"kind":"arc","seg":"a","pos":137,"cov":11.7},{"track":1,"kind":"arc","seg":"a","pos":170,"cov":20},{"track":1,"kind":"arc","seg":"a","pos":213,"cov":32.3},{"track":1,"kind":"arc","seg":"a","pos":248,"cov":40},{"track":1,"kind":"arc","seg":"a","pos":286,"cov":43.3},{"track":1,"kind":"arc","seg":"a","pos":341,"cov":35.7},{"track":1,"kind":"arc","seg":"a","pos":372,"cov":26},{"track":1,"kind":"arc","seg":"a","pos":386,"cov":20.5},{"track":1,"kind":"arc","seg":"a","pos":421,"cov":11},{"track":1,"kind":"arc","seg":"a","pos":471,"cov":0},
{"track":1,"kind":"arc","seg":"b","pos":215,"cov":0},{"track":1,"kind":"arc","seg":"b","pos":248,"cov":11},{"track":1,"kind":"arc","seg":"b","pos":282,"cov":22.3},{"track":1,"kind":"arc","seg":"b","pos":317,"cov":28.3},{"track":1,"kind":"arc","seg":"b","pos":341,"cov":30},{"track":1,"kind":"arc","seg":"b","pos":372,"cov":25.5},{"track":1,"kind":"arc","seg":"b","pos":386,"cov":20.5},{"track":1,"kind":"arc","seg":"b","pos":421,"cov":11},{"track":1,"kind":"arc","seg":"b","pos":471,"cov":0},
{"track":1,"kind":"arc","seg":"c","pos":677,"cov":11.7},{"track":1,"kind":"arc","seg":"c","pos":718,"cov":23.3},{"track":1,"kind":"arc","seg":"c","pos":764,"cov":30},{"track":1,"kind":"arc","seg":"c","pos":806,"cov":26.7},{"track":1,"kind":"arc","seg":"c","pos":842,"cov":16.7},{"track":1,"kind":"arc","seg":"c","pos":877,"cov":2.3},
{"track":2,"kind":"arc","seg":"a","pos":127,"cov":7.7},{"track":2,"kind":"arc","seg":"a","pos":165,"cov":18.5},{"track":2,"kind":"arc","seg":"a","pos":213,"cov":32},{"track":2,"kind":"arc","seg":"a","pos":248,"cov":39.5},{"track":2,"kind":"arc","seg":"a","pos":286,"cov":42.7},{"track":2,"kind":"arc","seg":"a","pos":341,"cov":35.3},{"track":2,"kind":"arc","seg":"a","pos":372,"cov":26},{"track":2,"kind":"arc","seg":"a","pos":386,"cov":20.5},{"track":2,"kind":"arc","seg":"a","pos":421,"cov":11},{"track":2,"kind":"arc","seg":"a","pos":471,"cov":0},
{"track":2,"kind":"arc","seg":"b","pos":215,"cov":0},{"track":2,"kind":"arc","seg":"b","pos":248,"cov":11},{"track":2,"kind":"arc","seg":"b","pos":282,"cov":22.3},{"track":2,"kind":"arc","seg":"b","pos":317,"cov":28.3},{"track":2,"kind":"arc","seg":"b","pos":341,"cov":30},{"track":2,"kind":"arc","seg":"b","pos":372,"cov":25.5},{"track":2,"kind":"arc","seg":"b","pos":386,"cov":20.5},{"track":2,"kind":"arc","seg":"b","pos":421,"cov":11},{"track":2,"kind":"arc","seg":"b","pos":471,"cov":0},
{"track":2,"kind":"arc","seg":"c","pos":667,"cov":9.3},{"track":2,"kind":"arc","seg":"c","pos":718,"cov":23},{"track":2,"kind":"arc","seg":"c","pos":764,"cov":30},{"track":2,"kind":"arc","seg":"c","pos":806,"cov":26.5},{"track":2,"kind":"arc","seg":"c","pos":845,"cov":16},{"track":2,"kind":"arc","seg":"c","pos":891,"cov":2.7},
{"track":3,"kind":"arc","seg":"a","pos":144,"cov":11.7},{"track":3,"kind":"arc","seg":"a","pos":175,"cov":21},{"track":3,"kind":"arc","seg":"a","pos":213,"cov":32.5},{"track":3,"kind":"arc","seg":"a","pos":248,"cov":40},{"track":3,"kind":"arc","seg":"a","pos":286,"cov":43.4},{"track":3,"kind":"arc","seg":"a","pos":341,"cov":35.7},{"track":3,"kind":"arc","seg":"a","pos":372,"cov":26},{"track":3,"kind":"arc","seg":"a","pos":386,"cov":20.5},{"track":3,"kind":"arc","seg":"a","pos":421,"cov":11},{"track":3,"kind":"arc","seg":"a","pos":471,"cov":0},
{"track":3,"kind":"arc","seg":"b","pos":215,"cov":0},{"track":3,"kind":"arc","seg":"b","pos":248,"cov":11},{"track":3,"kind":"arc","seg":"b","pos":282,"cov":22},{"track":3,"kind":"arc","seg":"b","pos":317,"cov":28},{"track":3,"kind":"arc","seg":"b","pos":341,"cov":29.7},{"track":3,"kind":"arc","seg":"b","pos":372,"cov":25.5},{"track":3,"kind":"arc","seg":"b","pos":386,"cov":20.5},{"track":3,"kind":"arc","seg":"b","pos":421,"cov":11},{"track":3,"kind":"arc","seg":"b","pos":471,"cov":0},
{"track":3,"kind":"arc","seg":"c","pos":671,"cov":12.3},{"track":3,"kind":"arc","seg":"c","pos":718,"cov":24},{"track":3,"kind":"arc","seg":"c","pos":764,"cov":30.7},{"track":3,"kind":"arc","seg":"c","pos":806,"cov":27},{"track":3,"kind":"arc","seg":"c","pos":845,"cov":16},{"track":3,"kind":"arc","seg":"c","pos":891,"cov":0},
{"track":4,"kind":"arc","seg":"a","pos":158,"cov":14},{"track":4,"kind":"arc","seg":"a","pos":182,"cov":22},{"track":4,"kind":"arc","seg":"a","pos":213,"cov":32.5},{"track":4,"kind":"arc","seg":"a","pos":248,"cov":40.5},{"track":4,"kind":"arc","seg":"a","pos":286,"cov":44},{"track":4,"kind":"arc","seg":"a","pos":341,"cov":36},{"track":4,"kind":"arc","seg":"a","pos":372,"cov":26},{"track":4,"kind":"arc","seg":"a","pos":386,"cov":20.5},{"track":4,"kind":"arc","seg":"a","pos":421,"cov":11},{"track":4,"kind":"arc","seg":"a","pos":471,"cov":0},
{"track":4,"kind":"arc","seg":"b","pos":215,"cov":0},{"track":4,"kind":"arc","seg":"b","pos":248,"cov":11},{"track":4,"kind":"arc","seg":"b","pos":282,"cov":22.3},{"track":4,"kind":"arc","seg":"b","pos":317,"cov":28.3},{"track":4,"kind":"arc","seg":"b","pos":341,"cov":30},{"track":4,"kind":"arc","seg":"b","pos":372,"cov":25.5},{"track":4,"kind":"arc","seg":"b","pos":386,"cov":20.5},{"track":4,"kind":"arc","seg":"b","pos":421,"cov":11},{"track":4,"kind":"arc","seg":"b","pos":471,"cov":0},
{"track":4,"kind":"arc","seg":"c","pos":661,"cov":8.3},{"track":4,"kind":"arc","seg":"c","pos":712,"cov":22.5},{"track":4,"kind":"arc","seg":"c","pos":764,"cov":30},{"track":4,"kind":"arc","seg":"c","pos":806,"cov":26.5},{"track":4,"kind":"arc","seg":"c","pos":842,"cov":16.5},{"track":4,"kind":"arc","seg":"c","pos":877,"cov":4}
],
"heatA": [
{"sample":"ERR315351","feature":"E1","fpkm":2.38},{"sample":"ERR315351","feature":"E2","fpkm":2.93},{"sample":"ERR315351","feature":"E3","fpkm":1.78},{"sample":"ERR315351","feature":"J1","fpkm":3.12},{"sample":"ERR315351","feature":"J2","fpkm":2.06},
{"sample":"ERR315350","feature":"E1","fpkm":2.38},{"sample":"ERR315350","feature":"E2","fpkm":2.83},{"sample":"ERR315350","feature":"E3","fpkm":1.66},{"sample":"ERR315350","feature":"J1","fpkm":2.62},{"sample":"ERR315350","feature":"J2","fpkm":1.33},
{"sample":"ERR315391","feature":"E1","fpkm":3.11},{"sample":"ERR315391","feature":"E2","fpkm":3.44},{"sample":"ERR315391","feature":"E3","fpkm":1.94},{"sample":"ERR315391","feature":"J1","fpkm":4.01},{"sample":"ERR315391","feature":"J2","fpkm":1.18},
{"sample":"ERR315446","feature":"E1","fpkm":4.33},{"sample":"ERR315446","feature":"E2","fpkm":4.68},{"sample":"ERR315446","feature":"E3","fpkm":3.15},{"sample":"ERR315446","feature":"J1","fpkm":5.28},{"sample":"ERR315446","feature":"J2","fpkm":2.77},
{"sample":"ERR315415","feature":"E1","fpkm":4.38},{"sample":"ERR315415","feature":"E2","fpkm":4.61},{"sample":"ERR315415","feature":"E3","fpkm":3.03},{"sample":"ERR315415","feature":"J1","fpkm":5.26},{"sample":"ERR315415","feature":"J2","fpkm":2.53},
{"sample":"ERR315352","feature":"E1","fpkm":4.23},{"sample":"ERR315352","feature":"E2","fpkm":4.59},{"sample":"ERR315352","feature":"E3","fpkm":2.91},{"sample":"ERR315352","feature":"J1","fpkm":5.17},{"sample":"ERR315352","feature":"J2","fpkm":2.47},
{"sample":"ERR315456","feature":"E1","fpkm":4.42},{"sample":"ERR315456","feature":"E2","fpkm":4.57},{"sample":"ERR315456","feature":"E3","fpkm":3.03},{"sample":"ERR315456","feature":"J1","fpkm":5.28},{"sample":"ERR315456","feature":"J2","fpkm":2.12},
{"sample":"ERR315492","feature":"E1","fpkm":3.99},{"sample":"ERR315492","feature":"E2","fpkm":4.25},{"sample":"ERR315492","feature":"E3","fpkm":2.83},{"sample":"ERR315492","feature":"J1","fpkm":4.83},{"sample":"ERR315492","feature":"J2","fpkm":2.29}
],
"heatB": [
{"sample":"SRR11095735","feature":"E1","fpkm":15.94},{"sample":"SRR11095735","feature":"E2","fpkm":16.17},{"sample":"SRR11095735","feature":"E3","fpkm":16.92},{"sample":"SRR11095735","feature":"E4","fpkm":16.95},{"sample":"SRR11095735","feature":"J1","fpkm":14.42},{"sample":"SRR11095735","feature":"J2","fpkm":16.17},{"sample":"SRR11095735","feature":"J3","fpkm":16.95},
{"sample":"SRR11095734","feature":"E1","fpkm":14.72},{"sample":"SRR11095734","feature":"E2","fpkm":16.47},{"sample":"SRR11095734","feature":"E3","fpkm":16.92},{"sample":"SRR11095734","feature":"E4","fpkm":16.95},{"sample":"SRR11095734","feature":"J1","fpkm":14.11},{"sample":"SRR11095734","feature":"J2","fpkm":16.17},{"sample":"SRR11095734","feature":"J3","fpkm":16.09},
{"sample":"SRR11095733","feature":"E1","fpkm":15.86},{"sample":"SRR11095733","feature":"E2","fpkm":15.79},{"sample":"SRR11095733","feature":"E3","fpkm":16.95},{"sample":"SRR11095733","feature":"E4","fpkm":16.77},{"sample":"SRR11095733","feature":"J1","fpkm":12.29},{"sample":"SRR11095733","feature":"J2","fpkm":16.32},{"sample":"SRR11095733","feature":"J3","fpkm":16.95},
{"sample":"SRR11095736","feature":"E1","fpkm":16.95},{"sample":"SRR11095736","feature":"E2","fpkm":16.7},{"sample":"SRR11095736","feature":"E3","fpkm":16.47},{"sample":"SRR11095736","feature":"E4","fpkm":16.85},{"sample":"SRR11095736","feature":"J1","fpkm":2.16},{"sample":"SRR11095736","feature":"J2","fpkm":15.18},{"sample":"SRR11095736","feature":"J3","fpkm":16.95}
]
},
"vconcat": [
{
"width": 1104, "height": 170,
"layer": [
{"data": {"name": "featA"}, "transform": [{"filter": "datum.type === 'intron'"}], "mark": {"type": "rule", "color": "#c8c8c8", "strokeWidth": 3},
 "encoding": {"x": {"field": "start", "type": "quantitative", "scale": {"domain": [0, 1104], "nice": false, "zero": false}, "axis": null}, "x2": {"field": "end"}, "y": {"datum": 118, "type": "quantitative", "scale": {"domain": [0, 170], "nice": false, "reverse": true}, "axis": null}}},
{"data": {"name": "featA"}, "transform": [{"filter": "datum.type === 'exon'"}], "mark": {"type": "rect", "color": "#c8c8c8"},
 "encoding": {"x": {"field": "start", "type": "quantitative"}, "x2": {"field": "end"}, "y": {"datum": 105, "type": "quantitative"}, "y2": {"datum": 131}}},
{"data": {"name": "featA"}, "transform": [{"filter": "datum.type === 'exon'"}, {"calculate": "(datum.start + datum.end) / 2", "as": "mid"}], "mark": {"type": "text", "font": "Liberation Sans", "fontWeight": "bold", "fontSize": 21, "baseline": "middle", "color": "#231f20"},
 "encoding": {"x": {"field": "mid", "type": "quantitative"}, "y": {"datum": 88, "type": "quantitative"}, "text": {"field": "id"}}},
{"data": {"name": "featA"}, "transform": [{"filter": "datum.type === 'intron'"}, {"calculate": "(datum.start + datum.end) / 2", "as": "mid"}], "mark": {"type": "text", "font": "Liberation Sans", "fontWeight": "bold", "fontSize": 21, "baseline": "middle", "color": "#231f20"},
 "encoding": {"x": {"field": "mid", "type": "quantitative"}, "y": {"datum": 104, "type": "quantitative"}, "text": {"field": "id"}}},
{"data": {"name": "featA"}, "transform": [{"filter": "datum.coord"}, {"calculate": "(datum.start + datum.end) / 2", "as": "mid"}], "mark": {"type": "text", "font": "Liberation Sans", "fontWeight": "bold", "fontSize": 17.5, "baseline": "middle", "color": "#231f20"},
 "encoding": {"x": {"field": "mid", "type": "quantitative"}, "y": {"datum": 148, "type": "quantitative"}, "text": {"field": "coord"}}},
{"data": {"name": "panels"}, "transform": [{"filter": "datum.panel === 'A'"}], "mark": {"type": "text", "font": "Liberation Sans", "fontWeight": "bold", "fontSize": 21, "baseline": "middle", "color": "#231f20"},
 "encoding": {"x": {"datum": 563, "type": "quantitative"}, "y": {"datum": 18, "type": "quantitative"}, "text": {"field": "tissue"}}},
{"data": {"name": "panels"}, "transform": [{"filter": "datum.panel === 'A'"}], "mark": {"type": "text", "font": "Liberation Sans", "fontWeight": "bold", "fontSize": 27, "baseline": "middle", "align": "left", "color": "#231f20"},
 "encoding": {"x": {"datum": 10, "type": "quantitative"}, "y": {"datum": 32, "type": "quantitative"}, "text": {"field": "panel"}}}
]
},
{"width": 1104, "height": 36, "data": {"name": "tracksA"}, "transform": [{"filter": "datum.track === 1"}], "layer": [
 {"transform": [{"filter": "datum.kind === 'cov'"}], "mark": {"type": "area", "interpolate": "step-after", "color": "#2b2e7d", "stroke": "#2b2e7d", "strokeWidth": 0.8}, "encoding": {"x": {"field": "pos", "type": "quantitative", "scale": {"domain": [0, 1104], "nice": false, "zero": false}, "axis": null}, "y": {"field": "cov", "type": "quantitative", "scale": {"domain": [0, 35.5], "nice": false}, "axis": null}, "detail": {"field": "seg"}}},
 {"transform": [{"filter": "datum.kind === 'arc'"}], "mark": {"type": "line", "interpolate": "monotone", "color": "#2b2e7d", "strokeWidth": 2}, "encoding": {"x": {"field": "pos", "type": "quantitative"}, "y": {"field": "cov", "type": "quantitative"}, "detail": {"field": "seg"}}}]},
{"width": 1104, "height": 35, "data": {"name": "tracksA"}, "transform": [{"filter": "datum.track === 2"}], "layer": [
 {"transform": [{"filter": "datum.kind === 'cov'"}], "mark": {"type": "area", "interpolate": "step-after", "color": "#2b2e7d", "stroke": "#2b2e7d", "strokeWidth": 0.8}, "encoding": {"x": {"field": "pos", "type": "quantitative", "scale": {"domain": [0, 1104], "nice": false, "zero": false}, "axis": null}, "y": {"field": "cov", "type": "quantitative", "scale": {"domain": [0, 35.5], "nice": false}, "axis": null}, "detail": {"field": "seg"}}},
 {"transform": [{"filter": "datum.kind === 'arc'"}], "mark": {"type": "line", "interpolate": "monotone", "color": "#2b2e7d", "strokeWidth": 2}, "encoding": {"x": {"field": "pos", "type": "quantitative"}, "y": {"field": "cov", "type": "quantitative"}, "detail": {"field": "seg"}}}]},
{"width": 1104, "height": 36, "data": {"name": "tracksA"}, "transform": [{"filter": "datum.track === 3"}], "layer": [
 {"transform": [{"filter": "datum.kind === 'cov'"}], "mark": {"type": "area", "interpolate": "step-after", "color": "#2b2e7d", "stroke": "#2b2e7d", "strokeWidth": 0.8}, "encoding": {"x": {"field": "pos", "type": "quantitative", "scale": {"domain": [0, 1104], "nice": false, "zero": false}, "axis": null}, "y": {"field": "cov", "type": "quantitative", "scale": {"domain": [0, 35.5], "nice": false}, "axis": null}, "detail": {"field": "seg"}}},
 {"transform": [{"filter": "datum.kind === 'arc'"}], "mark": {"type": "line", "interpolate": "monotone", "color": "#2b2e7d", "strokeWidth": 2}, "encoding": {"x": {"field": "pos", "type": "quantitative"}, "y": {"field": "cov", "type": "quantitative"}, "detail": {"field": "seg"}}}]},
{"width": 1104, "height": 35, "data": {"name": "tracksA"}, "transform": [{"filter": "datum.track === 4"}], "layer": [
 {"transform": [{"filter": "datum.kind === 'cov'"}], "mark": {"type": "area", "interpolate": "step-after", "color": "#2b2e7d", "stroke": "#2b2e7d", "strokeWidth": 0.8}, "encoding": {"x": {"field": "pos", "type": "quantitative", "scale": {"domain": [0, 1104], "nice": false, "zero": false}, "axis": null}, "y": {"field": "cov", "type": "quantitative", "scale": {"domain": [0, 35.5], "nice": false}, "axis": null}, "detail": {"field": "seg"}}},
 {"transform": [{"filter": "datum.kind === 'arc'"}], "mark": {"type": "line", "interpolate": "monotone", "color": "#2b2e7d", "strokeWidth": 2}, "encoding": {"x": {"field": "pos", "type": "quantitative"}, "y": {"field": "cov", "type": "quantitative"}, "detail": {"field": "seg"}}}]},
{"width": 1104, "height": 36, "data": {"name": "tracksA"}, "transform": [{"filter": "datum.track === 5"}], "layer": [
 {"transform": [{"filter": "datum.kind === 'cov'"}], "mark": {"type": "area", "interpolate": "step-after", "color": "#2b2e7d", "stroke": "#2b2e7d", "strokeWidth": 0.8}, "encoding": {"x": {"field": "pos", "type": "quantitative", "scale": {"domain": [0, 1104], "nice": false, "zero": false}, "axis": null}, "y": {"field": "cov", "type": "quantitative", "scale": {"domain": [0, 35.5], "nice": false}, "axis": null}, "detail": {"field": "seg"}}},
 {"transform": [{"filter": "datum.kind === 'arc'"}], "mark": {"type": "line", "interpolate": "monotone", "color": "#2b2e7d", "strokeWidth": 2}, "encoding": {"x": {"field": "pos", "type": "quantitative"}, "y": {"field": "cov", "type": "quantitative"}, "detail": {"field": "seg"}}}]},
{"width": 1104, "height": 35, "data": {"name": "tracksA"}, "transform": [{"filter": "datum.track === 6"}], "layer": [
 {"transform": [{"filter": "datum.kind === 'cov'"}], "mark": {"type": "area", "interpolate": "step-after", "color": "#2b2e7d", "stroke": "#2b2e7d", "strokeWidth": 0.8}, "encoding": {"x": {"field": "pos", "type": "quantitative", "scale": {"domain": [0, 1104], "nice": false, "zero": false}, "axis": null}, "y": {"field": "cov", "type": "quantitative", "scale": {"domain": [0, 35.5], "nice": false}, "axis": null}, "detail": {"field": "seg"}}},
 {"transform": [{"filter": "datum.kind === 'arc'"}], "mark": {"type": "line", "interpolate": "monotone", "color": "#2b2e7d", "strokeWidth": 2}, "encoding": {"x": {"field": "pos", "type": "quantitative"}, "y": {"field": "cov", "type": "quantitative"}, "detail": {"field": "seg"}}}]},
{"width": 1104, "height": 36, "data": {"name": "tracksA"}, "transform": [{"filter": "datum.track === 7"}], "layer": [
 {"transform": [{"filter": "datum.kind === 'cov'"}], "mark": {"type": "area", "interpolate": "step-after", "color": "#2b2e7d", "stroke": "#2b2e7d", "strokeWidth": 0.8}, "encoding": {"x": {"field": "pos", "type": "quantitative", "scale": {"domain": [0, 1104], "nice": false, "zero": false}, "axis": null}, "y": {"field": "cov", "type": "quantitative", "scale": {"domain": [0, 35.5], "nice": false}, "axis": null}, "detail": {"field": "seg"}}},
 {"transform": [{"filter": "datum.kind === 'arc'"}], "mark": {"type": "line", "interpolate": "monotone", "color": "#2b2e7d", "strokeWidth": 2}, "encoding": {"x": {"field": "pos", "type": "quantitative"}, "y": {"field": "cov", "type": "quantitative"}, "detail": {"field": "seg"}}}]},
{"width": 1104, "height": 35, "data": {"name": "tracksA"}, "transform": [{"filter": "datum.track === 8"}], "layer": [
 {"transform": [{"filter": "datum.kind === 'cov'"}], "mark": {"type": "area", "interpolate": "step-after", "color": "#2b2e7d", "stroke": "#2b2e7d", "strokeWidth": 0.8}, "encoding": {"x": {"field": "pos", "type": "quantitative", "scale": {"domain": [0, 1104], "nice": false, "zero": false}, "axis": null}, "y": {"field": "cov", "type": "quantitative", "scale": {"domain": [0, 35.5], "nice": false}, "axis": null}, "detail": {"field": "seg"}}},
 {"transform": [{"filter": "datum.kind === 'arc'"}], "mark": {"type": "line", "interpolate": "monotone", "color": "#2b2e7d", "strokeWidth": 2}, "encoding": {"x": {"field": "pos", "type": "quantitative"}, "y": {"field": "cov", "type": "quantitative"}, "detail": {"field": "seg"}}}]},
{"width": 1104, "height": 227, "data": {"name": "heatA"}, "mark": {"type": "rect"},
 "encoding": {
  "x": {"field": "feature", "type": "nominal", "sort": ["E1", "E2", "E3", "J1", "J2"], "scale": {"range": [75, 962], "paddingInner": 0, "paddingOuter": 0}, "axis": {"orient": "top", "offset": -41, "title": null, "domain": false, "ticks": false, "tickSize": 0, "labelAngle": 0, "labelFontSize": 20, "labelPadding": 16, "labelBaseline": "middle"}},
  "y": {"field": "sample", "type": "nominal", "sort": ["ERR315351", "ERR315350", "ERR315391", "ERR315446", "ERR315415", "ERR315352", "ERR315456", "ERR315492"], "scale": {"range": [41, 227], "paddingInner": 0, "paddingOuter": 0}, "axis": {"orient": "right", "offset": -142, "title": null, "domain": false, "ticks": false, "tickSize": 0, "labelFontSize": 17, "labelPadding": 10, "labelAlign": "left"}},
  "color": {"field": "fpkm", "type": "quantitative", "scale": {"domain": [1.1, 5.3], "range": ["#000000", "#8a7434", "#fad700"], "interpolate": "rgb"},
   "legend": {"title": "Expresion (FPKM)", "orient": "none", "legendX": 647, "legendY": 242, "direction": "horizontal", "titleOrient": "left", "titleFont": "Liberation Sans", "titleFontWeight": "bold", "titleFontSize": 20, "titleColor": "#231f20", "titlePadding": 22, "titleBaseline": "middle", "gradientLength": 165, "gradientThickness": 27, "gradientStrokeWidth": 0, "values": [1.1, 5.3], "format": ".1f", "labelFont": "Liberation Sans", "labelFontWeight": "bold", "labelFontSize": 18, "labelColor": "#231f20", "labelOffset": 3, "encode": {"labels": {"update": {"align": {"value": "center"}}}}}}
 }},
{
"width": 1104, "height": 351,
"layer": [
{"data": {"name": "featB"}, "transform": [{"filter": "datum.type === 'intron'"}], "mark": {"type": "rule", "color": "#c8c8c8", "strokeWidth": 3},
 "encoding": {"x": {"field": "start", "type": "quantitative", "scale": {"domain": [0, 1104], "nice": false, "zero": false}, "axis": null}, "x2": {"field": "end"}, "y": {"datum": 249, "type": "quantitative", "scale": {"domain": [0, 351], "nice": false, "reverse": true}, "axis": null}}},
{"data": {"name": "arcB"}, "mark": {"type": "line", "interpolate": "monotone", "color": "#c4c4c4", "strokeWidth": 3},
 "encoding": {"x": {"field": "pos", "type": "quantitative"}, "y": {"field": "level", "type": "quantitative"}}},
{"data": {"name": "featB"}, "transform": [{"filter": "datum.type === 'exon'"}], "mark": {"type": "rect", "color": "#c6c6c6"},
 "encoding": {"x": {"field": "start", "type": "quantitative"}, "x2": {"field": "end"}, "y": {"datum": 231, "type": "quantitative"}, "y2": {"datum": 259}}},
{"data": {"name": "featB"}, "transform": [{"filter": "datum.type === 'exon'"}, {"calculate": "(datum.start + datum.end) / 2", "as": "mid"}], "mark": {"type": "text", "font": "Liberation Sans", "fontWeight": "bold", "fontSize": 21, "baseline": "middle", "color": "#231f20"},
 "encoding": {"x": {"field": "mid", "type": "quantitative"}, "y": {"datum": 280, "type": "quantitative"}, "text": {"field": "id"}}},
{"data": {"name": "featB"}, "transform": [{"filter": "datum.type === 'intron'"}, {"calculate": "(datum.start + datum.end) / 2", "as": "mid"}], "mark": {"type": "text", "font": "Liberation Sans", "fontWeight": "bold", "fontSize": 21, "baseline": "middle", "color": "#231f20"},
 "encoding": {"x": {"field": "mid", "type": "quantitative"}, "y": {"datum": 263, "type": "quantitative"}, "text": {"field": "id"}}},
{"data": {"name": "featB"}, "transform": [{"filter": "datum.coord && datum.type !== 'junction'"}, {"calculate": "(datum.start + datum.end) / 2", "as": "mid"}], "mark": {"type": "text", "font": "Liberation Sans", "fontWeight": "bold", "fontSize": 17.5, "baseline": "middle", "color": "#231f20"},
 "encoding": {"x": {"field": "mid", "type": "quantitative"}, "y": {"datum": 316, "type": "quantitative"}, "text": {"field": "coord"}}},
{"data": {"name": "featB"}, "transform": [{"filter": "datum.type === 'junction'"}, {"calculate": "(datum.start + datum.end) / 2", "as": "mid"}], "mark": {"type": "text", "font": "Liberation Sans", "fontWeight": "bold", "fontSize": 21, "baseline": "middle", "color": "#231f20", "dx": -10},
 "encoding": {"x": {"field": "mid", "type": "quantitative"}, "y": {"datum": 145, "type": "quantitative"}, "text": {"field": "id"}}},
{"data": {"name": "featB"}, "transform": [{"filter": "datum.type === 'junction'"}, {"calculate": "(datum.start + datum.end) / 2", "as": "mid"}], "mark": {"type": "text", "font": "Liberation Sans", "fontWeight": "bold", "fontSize": 17.5, "baseline": "middle", "color": "#231f20", "dx": -36},
 "encoding": {"x": {"field": "mid", "type": "quantitative"}, "y": {"datum": 214, "type": "quantitative"}, "text": {"field": "coord"}}},
{"data": {"name": "panels"}, "transform": [{"filter": "datum.panel === 'B'"}], "mark": {"type": "text", "font": "Liberation Sans", "fontWeight": "bold", "fontSize": 21, "baseline": "middle", "color": "#231f20"},
 "encoding": {"x": {"datum": 563, "type": "quantitative"}, "y": {"datum": 110, "type": "quantitative"}, "text": {"field": "tissue"}}},
{"data": {"name": "panels"}, "transform": [{"filter": "datum.panel === 'B'"}], "mark": {"type": "text", "font": "Liberation Sans", "fontWeight": "bold", "fontSize": 27, "baseline": "middle", "align": "left", "color": "#231f20"},
 "encoding": {"x": {"datum": 10, "type": "quantitative"}, "y": {"datum": 81, "type": "quantitative"}, "text": {"field": "panel"}}}
]
},
{"width": 1104, "height": 50, "data": {"name": "tracksB"}, "transform": [{"filter": "datum.track === 1"}], "layer": [
 {"transform": [{"filter": "datum.kind === 'cov'"}], "mark": {"type": "area", "interpolate": "step-after", "color": "#2b2e7d", "stroke": "#2b2e7d", "strokeWidth": 0.8}, "encoding": {"x": {"field": "pos", "type": "quantitative", "scale": {"domain": [0, 1104], "nice": false, "zero": false}, "axis": null}, "y": {"field": "cov", "type": "quantitative", "scale": {"domain": [0, 49.5], "nice": false}, "axis": null}, "detail": {"field": "seg"}}},
 {"transform": [{"filter": "datum.kind === 'arc'"}], "mark": {"type": "line", "interpolate": "monotone", "color": "#2b2e7d", "strokeWidth": 2}, "encoding": {"x": {"field": "pos", "type": "quantitative"}, "y": {"field": "cov", "type": "quantitative"}, "detail": {"field": "seg"}}}]},
{"width": 1104, "height": 49, "data": {"name": "tracksB"}, "transform": [{"filter": "datum.track === 2"}], "layer": [
 {"transform": [{"filter": "datum.kind === 'cov'"}], "mark": {"type": "area", "interpolate": "step-after", "color": "#2b2e7d", "stroke": "#2b2e7d", "strokeWidth": 0.8}, "encoding": {"x": {"field": "pos", "type": "quantitative", "scale": {"domain": [0, 1104], "nice": false, "zero": false}, "axis": null}, "y": {"field": "cov", "type": "quantitative", "scale": {"domain": [0, 49.5], "nice": false}, "axis": null}, "detail": {"field": "seg"}}},
 {"transform": [{"filter": "datum.kind === 'arc'"}], "mark": {"type": "line", "interpolate": "monotone", "color": "#2b2e7d", "strokeWidth": 2}, "encoding": {"x": {"field": "pos", "type": "quantitative"}, "y": {"field": "cov", "type": "quantitative"}, "detail": {"field": "seg"}}}]},
{"width": 1104, "height": 50, "data": {"name": "tracksB"}, "transform": [{"filter": "datum.track === 3"}], "layer": [
 {"transform": [{"filter": "datum.kind === 'cov'"}], "mark": {"type": "area", "interpolate": "step-after", "color": "#2b2e7d", "stroke": "#2b2e7d", "strokeWidth": 0.8}, "encoding": {"x": {"field": "pos", "type": "quantitative", "scale": {"domain": [0, 1104], "nice": false, "zero": false}, "axis": null}, "y": {"field": "cov", "type": "quantitative", "scale": {"domain": [0, 49.5], "nice": false}, "axis": null}, "detail": {"field": "seg"}}},
 {"transform": [{"filter": "datum.kind === 'arc'"}], "mark": {"type": "line", "interpolate": "monotone", "color": "#2b2e7d", "strokeWidth": 2}, "encoding": {"x": {"field": "pos", "type": "quantitative"}, "y": {"field": "cov", "type": "quantitative"}, "detail": {"field": "seg"}}}]},
{"width": 1104, "height": 49, "data": {"name": "tracksB"}, "transform": [{"filter": "datum.track === 4"}], "layer": [
 {"transform": [{"filter": "datum.kind === 'cov'"}], "mark": {"type": "area", "interpolate": "step-after", "color": "#2b2e7d", "stroke": "#2b2e7d", "strokeWidth": 0.8}, "encoding": {"x": {"field": "pos", "type": "quantitative", "scale": {"domain": [0, 1104], "nice": false, "zero": false}, "axis": null}, "y": {"field": "cov", "type": "quantitative", "scale": {"domain": [0, 49.5], "nice": false}, "axis": null}, "detail": {"field": "seg"}}},
 {"transform": [{"filter": "datum.kind === 'arc'"}], "mark": {"type": "line", "interpolate": "monotone", "color": "#2b2e7d", "strokeWidth": 2}, "encoding": {"x": {"field": "pos", "type": "quantitative"}, "y": {"field": "cov", "type": "quantitative"}, "detail": {"field": "seg"}}}]},
{"width": 1104, "height": 294, "data": {"name": "heatB"}, "mark": {"type": "rect"},
 "encoding": {
  "x": {"field": "feature", "type": "nominal", "sort": ["E1", "E2", "E3", "E4", "J1", "J2", "J3"], "scale": {"range": [53, 939], "paddingInner": 0, "paddingOuter": 0}, "axis": {"orient": "top", "offset": -43, "title": null, "domain": false, "ticks": false, "tickSize": 0, "labelAngle": 0, "labelFontSize": 20, "labelPadding": 15, "labelBaseline": "middle"}},
  "y": {"field": "sample", "type": "nominal", "sort": ["SRR11095735", "SRR11095734", "SRR11095733", "SRR11095736"], "scale": {"range": [43, 230], "paddingInner": 0, "paddingOuter": 0}, "axis": {"orient": "right", "offset": -165, "title": null, "domain": false, "ticks": false, "tickSize": 0, "labelFontSize": 18, "labelPadding": 6, "labelAlign": "left"}},
  "color": {"field": "fpkm", "type": "quantitative", "scale": {"domain": [0, 17], "range": ["#000000", "#8a7434", "#fad700"], "interpolate": "rgb"},
   "legend": {"title": "Expresion (FPKM)", "orient": "none", "legendX": 617, "legendY": 242, "direction": "horizontal", "titleOrient": "left", "titleFont": "Liberation Sans", "titleFontWeight": "bold", "titleFontSize": 20, "titleColor": "#231f20", "titlePadding": 8, "titleBaseline": "middle", "gradientLength": 174, "gradientThickness": 30, "gradientStrokeWidth": 0, "values": [0, 17], "format": "d", "labelFont": "Liberation Sans", "labelFontWeight": "bold", "labelFontSize": 18, "labelColor": "#231f20", "labelOffset": 1, "encode": {"labels": {"update": {"align": {"value": "center"}}}}}}
 }}
]
}
